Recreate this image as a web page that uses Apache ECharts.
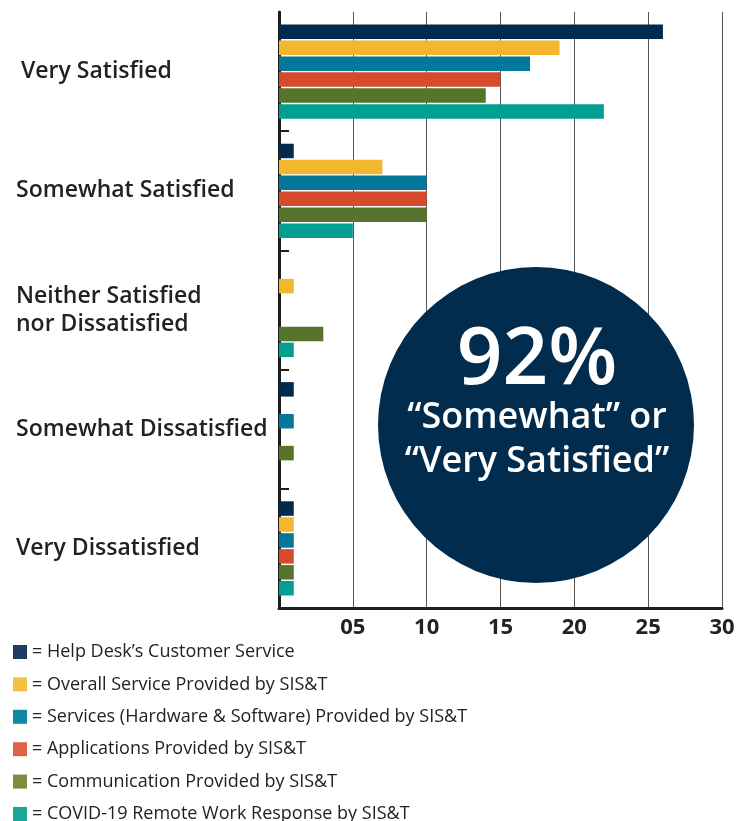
<!DOCTYPE html>
<html>
<head>
<meta charset="utf-8">
<script src="https://cdn.jsdelivr.net/npm/echarts@6/dist/echarts.min.js"></script>
<style>html,body{margin:0;padding:0;background:#fff;}#c{width:750px;height:821px;}</style>
</head>
<body>
<div id="c"></div>
<script>
const categories = ['Very Satisfied', 'Somewhat Satisfied', 'Neither Satisfied\nnor Dissatisfied', 'Somewhat Dissatisfied', 'Very Dissatisfied'];
const seriesNames = [
  'Help Desk\u2019s Customer Service',
  'Overall Service Provided by SIS&T',
  'Services (Hardware & Software) Provided by SIS&T',
  'Applications Provided by SIS&T',
  'Communication Provided by SIS&T',
  'COVID-19 Remote Work Response by SIS&T'
];
const helpDesk      = [26, 1, 0, 1, 1];
const overall       = [19, 7, 1, 0, 1];
const services      = [17, 10, 0, 1, 1];
const applications  = [15, 10, 0, 0, 1];
const communication = [14, 10, 3, 1, 1];
const covid         = [22, 5, 1, 0, 1];
const xTicks = [0, 5, 10, 15, 20, 25, 30];
const calloutTexts = ['92%', '\u201cSomewhat\u201d or', '\u201cVery Satisfied\u201d'];

const values = [helpDesk, overall, services, applications, communication, covid];
const barColors = ['#002b4e', '#f4b62c', '#037899', '#d64b2c', '#56742b', '#019e92'];
const legendColors = ['#1f3c64', '#f5c142', '#0f88a3', '#e0614b', '#7b8d3f', '#17a797'];
const FONT = '"Open Sans"';

const chart = echarts.init(document.getElementById('c'));
chart.setOption({
  animation: false,
  grid: { left: 279, right: 28, top: 12, bottom: 213, containLabel: false },
  xAxis: {
    type: 'value', min: xTicks[0], max: xTicks[xTicks.length - 1], interval: 5,
    axisLine: { show: true, lineStyle: { color: '#1e1e1e', width: 3 } },
    axisTick: { show: false },
    splitLine: { show: true, lineStyle: { color: '#555', width: 1 } },
    axisLabel: {
      margin: 9, color: '#222', fontFamily: FONT, fontWeight: 'bold', fontSize: 22,
      formatter: function (v) { return v === 0 ? '' : (v < 10 ? '0' + v : String(v)); }
    }
  },
  yAxis: {
    type: 'category', data: categories, inverse: true,
    axisLine: { show: true, lineStyle: { color: '#1e1e1e', width: 3 } },
    axisTick: { show: true, inside: true, length: 10, interval: function (i) { return i > 0; }, lineStyle: { color: '#1e1e1e', width: 2 } },
    axisLabel: {
      align: 'left', margin: 263, color: '#222', fontFamily: FONT, fontWeight: 600, fontSize: 23, lineHeight: 28,
      formatter: function (v, i) { return i === 0 ? '{ind|' + v + '}' : v; },
      rich: { ind: { padding: [0, 0, 0, 5], color: '#222', fontFamily: FONT, fontWeight: 600, fontSize: 23 } }
    }
  },
  legend: {
    orient: 'vertical', left: 13, top: 643, height: 200, padding: 0,
    icon: 'rect', itemWidth: 14, itemHeight: 14, itemGap: 14.4,
    selectedMode: false,
    textStyle: { fontFamily: FONT, fontSize: 18, color: '#222', lineHeight: 18 },
    formatter: '= {name}',
    data: seriesNames.map(function (n, i) { return { name: n, itemStyle: { color: legendColors[i] } }; })
  },
  series: seriesNames.map(function (n, i) {
    return {
      name: n, type: 'bar', data: values[i],
      barGap: '10%', barCategoryGap: '21%',
      itemStyle: { color: barColors[i] },
      z: 2
    };
  }),
  graphic: [
    { type: 'circle', shape: { cx: 536, cy: 425, r: 158 }, style: { fill: '#022c4d' }, z: 10 },
    { type: 'text', x: 537, y: 361, z: 11, style: { text: calloutTexts[0], fill: '#fff', font: '600 80px "Open Sans"', textAlign: 'center', textVerticalAlign: 'middle' } },
    { type: 'text', x: 537, y: 418, z: 11, style: { text: calloutTexts[1], fill: '#fff', font: '600 36px "Open Sans"', textAlign: 'center', textVerticalAlign: 'middle' } },
    { type: 'text', x: 537, y: 462, z: 11, style: { text: calloutTexts[2], fill: '#fff', font: '600 36px "Open Sans"', textAlign: 'center', textVerticalAlign: 'middle' } }
  ]
});
</script>
</body>
</html>
